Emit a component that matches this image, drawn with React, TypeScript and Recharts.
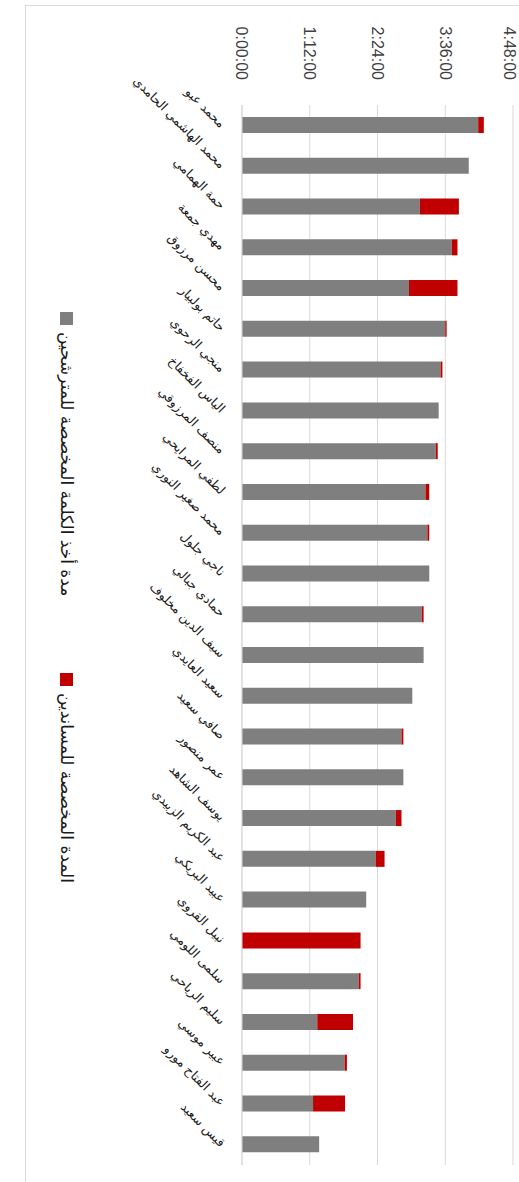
import React from 'react';
import { BarChart, Bar, XAxis, YAxis, CartesianGrid } from 'recharts';

// speaking time per candidate, in minutes
const candidates = [
  'محمد عبو',
  'محمد الهاشمي الحامدي',
  'حمة الهمامي',
  'مهدي جمعة',
  'محسن مرزوق',
  'حاتم بولبيار',
  'منجي الرحوي',
  'الياس الفخفاخ',
  'منصف المرزوقي',
  'لطفي المرايحي',
  'محمد صغير النوري',
  'ناجي جلول',
  'حمادي جبالي',
  'سيف الدين مخلوف',
  'سعيد العايدي',
  'صافي سعيد',
  'عمر منصور',
  'يوسف الشاهد',
  'عبد الكريم الزبيدي',
  'عبيد البريكي',
  'نبيل القروي',
  'سلمى اللومي',
  'سليم الرياحي',
  'عبير موسي',
  'عبد الفتاح مورو',
  'قيس سعيد',
];
const candidateMinutes = [251, 241, 189, 223, 177.5, 216, 211, 209, 206, 195, 197, 199, 191, 193, 181, 169.5, 171.5, 163.5, 142, 132, 0, 124, 80, 109, 75.5, 82];
const supporterMinutes = [6, 0, 41.5, 6, 51.5, 1.5, 2, 0, 2, 4, 2, 0, 2, 0, 0, 2, 0, 6, 9.5, 0, 126, 2, 38, 2.5, 34, 0];
const timeTicks = [0, 72, 144, 216, 288];

const SERIES_A = 'مدة أخذ الكلمة المخصصة للمترشحين';
const SERIES_B = 'المدة المخصصة للمساندين';
const GRAY = '#7f7f7f';
const RED = '#c00000';
const FONT = '"DejaVu Sans", "Liberation Sans", Arial, sans-serif';

const data = candidates.map((name, i) => ({
  name,
  a: candidateMinutes[i],
  b: supporterMinutes[i],
}));

const fmtTime = (m: number) => {
  const h = Math.floor(m / 60);
  const mm = Math.round(m % 60);
  return `${h}:${String(mm).padStart(2, '0')}:00`;
};

const NameTick = (props: any) => {
  const { x, y, payload } = props;
  const ax = x + 3;
  const ay = y + 14;
  return (
    <text x={ax} y={ay} transform={`rotate(-45 ${ax} ${ay})`} textAnchor="end" fontSize={12.5} fill="#1a1a1a" fontFamily={FONT}>
      {payload.value}
    </text>
  );
};

const W = 1182;
const H = 519;

export default function App() {
  return (
    <div style={{ position: 'absolute', left: 0, top: 0, width: 519, height: 1182, overflow: 'hidden', background: '#fff' }}>
      <div
        style={{
          position: 'absolute',
          left: 0,
          top: 0,
          width: W,
          height: H,
          transform: 'translateX(519px) rotate(90deg)',
          transformOrigin: '0 0',
          fontFamily: FONT,
        }}
      >
        <div style={{ position: 'absolute', left: 5, top: -10, width: 1300, height: 502, border: '1px solid #d9d9d9' }} />
        <BarChart width={W} height={H} data={data} margin={{ top: 6, right: 17, bottom: 212, left: 5 }} barSize={16}>
          <CartesianGrid vertical={false} stroke="#d9d9d9" />
          <XAxis dataKey="name" interval={0} height={30} tickLine={false} axisLine={{ stroke: '#d9d9d9' }} tick={<NameTick />} />
          <YAxis
            domain={[0, 288]}
            ticks={timeTicks}
            tickFormatter={fmtTime}
            width={100}
            axisLine={false}
            tickLine={false}
            tickMargin={19}
            tick={{ fontSize: 16, fill: '#404040', fontFamily: '"Liberation Sans", Arial, sans-serif' }}
          />
          <Bar dataKey="a" name={SERIES_A} stackId="t" fill={GRAY} isAnimationActive={false} />
          <Bar dataKey="b" name={SERIES_B} stackId="t" fill={RED} isAnimationActive={false} />
        </BarChart>
        <div style={{ position: 'absolute', left: 312, top: 442, display: 'flex', alignItems: 'center', gap: 7, fontSize: 17, color: '#1a1a1a' }}>
          <span style={{ width: 13, height: 13, background: GRAY, display: 'inline-block' }} />
          <span>{SERIES_A}</span>
        </div>
        <div style={{ position: 'absolute', left: 673, top: 442, display: 'flex', alignItems: 'center', gap: 7, fontSize: 17, color: '#1a1a1a' }}>
          <span style={{ width: 13, height: 13, background: RED, display: 'inline-block' }} />
          <span>{SERIES_B}</span>
        </div>
      </div>
    </div>
  );
}
